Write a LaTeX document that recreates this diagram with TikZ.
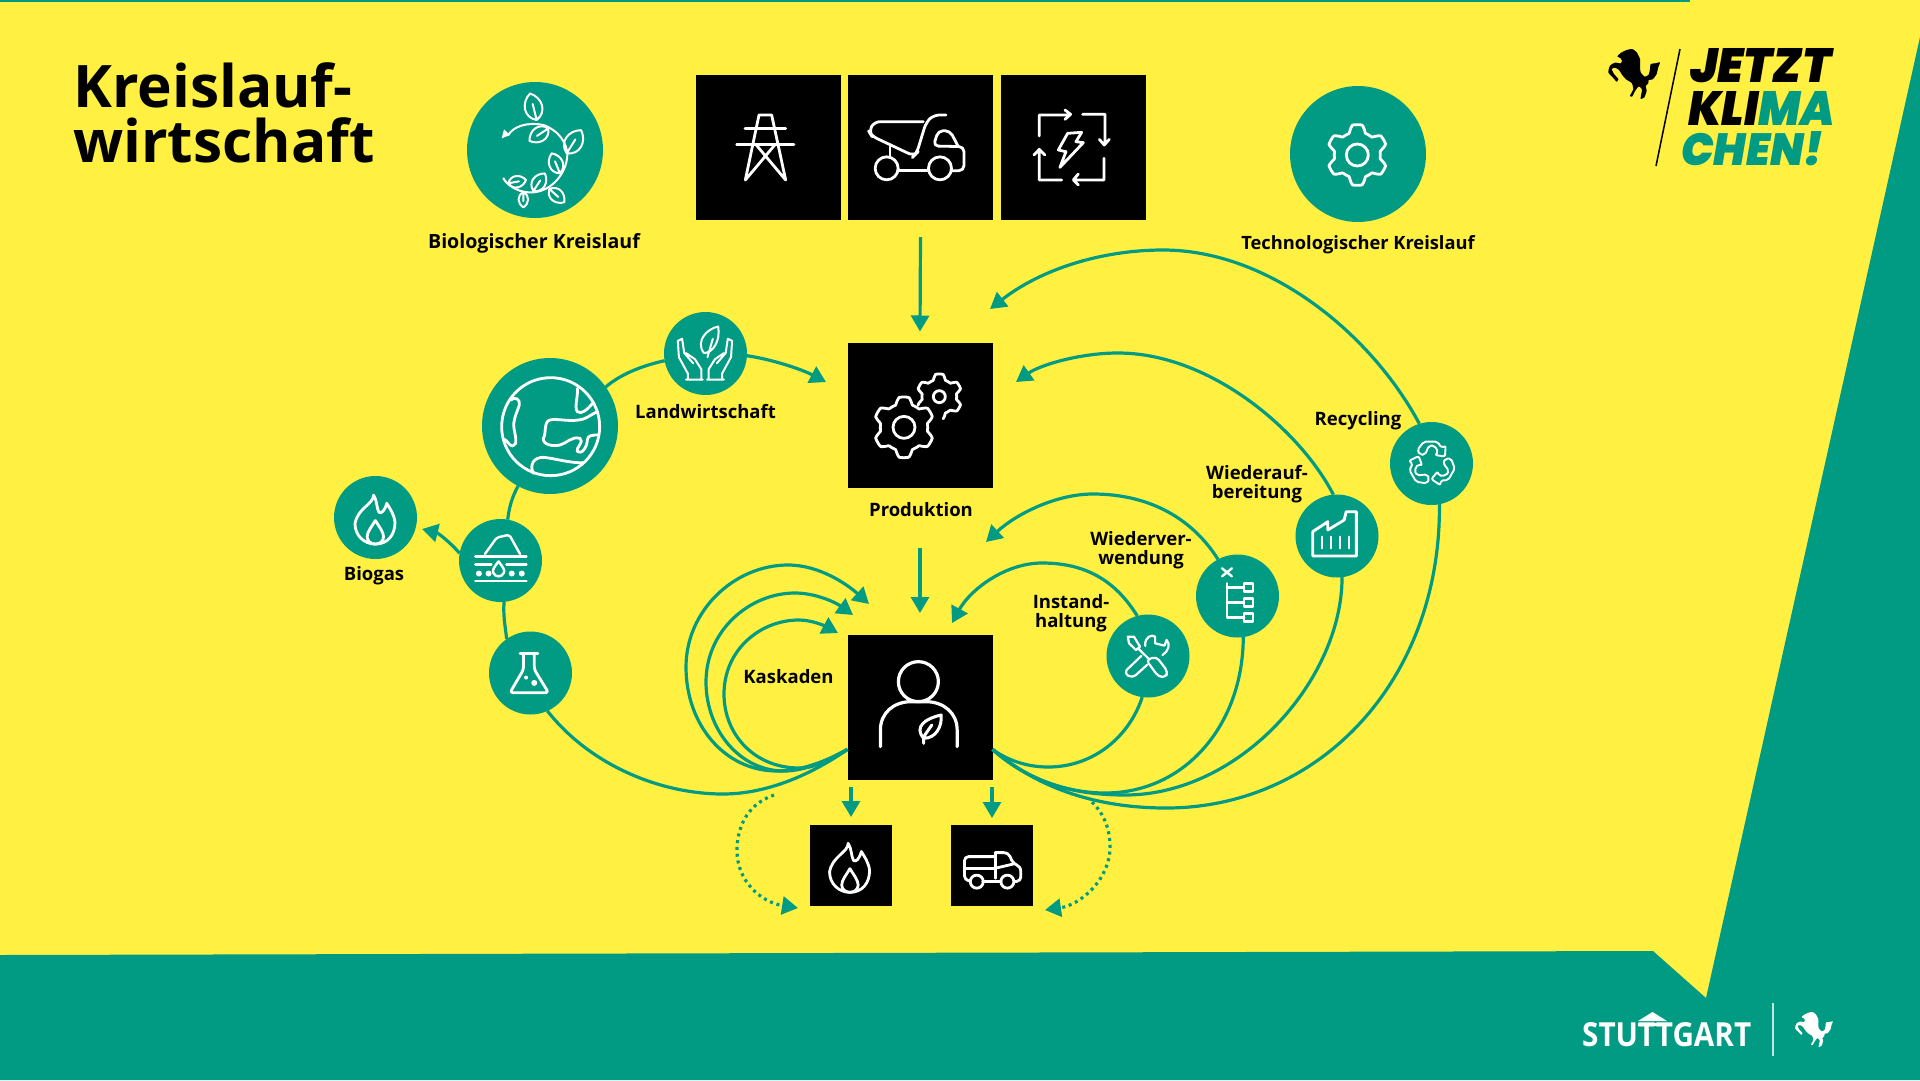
\documentclass[tikz,border=0pt]{standalone}
\usepackage{fontspec}
\usepackage{graphicx}
\usetikzlibrary{arrows.meta,calc}
\setmainfont{Open Sans}
\newfontfamily\logofont{Poppins Black}[ItalicFont={Poppins Black Italic}]
\definecolor{myteal}{HTML}{009B82}
\definecolor{myyellow}{HTML}{FFF042}
\tikzset{
  zT/.style={x=0.3333pt,y=-0.3333pt},
  zA/.style={x=0.4847pt,y=-0.3333pt},
  zB/.style={x=0.3571pt,y=-0.4082pt},
  zC/.style={x=0.4082pt,y=-0.3333pt},
  ico/.style={draw=white,line width=2.8pt,line cap=round,line join=round},
  bigc/.style={circle,fill=myteal,inner sep=0pt,outer sep=0pt,minimum size=136pt},
  midc/.style={circle,fill=myteal,inner sep=0pt,outer sep=0pt,minimum size=83pt},
  bsq/.style={rectangle,fill=black,inner sep=0pt,outer sep=0pt,minimum width=145pt,minimum height=145pt},
  ssq/.style={rectangle,fill=black,inner sep=0pt,outer sep=0pt,minimum width=82pt,minimum height=81pt},
  lab/.style={align=center,font=\bfseries\fontsize{18.5}{19}\selectfont,inner sep=0pt},
  link/.style={draw=myteal,line width=3.2pt},
  conn/.style={link,-{Triangle[width=18pt,length=16pt]}},
  dotconn/.style={conn,dash pattern=on 3pt off 3.8pt},
}
\newcommand{\vleaf}[4]{\begin{scope}[shift={(#1,#2)},rotate=#3,scale=#4]
  \draw[ico,line width=2pt] (0,0) .. controls (.2,.45) and (.75,.4) .. (1,0) .. controls (.75,-.4) and (.2,-.45) .. (0,0) (0,0) -- (.6,0);
\end{scope}}
\newcommand{\gearline}[7]{\draw[ico] plot[domain=#6:#7,samples=150,smooth] ({#1+(#3+#4*max(-1,min(1,1.8*cos(6*(\x-#5)))))*cos(\x)},{#2-(#3+#4*max(-1,min(1,1.8*cos(6*(\x-#5)))))*sin(\x)});}
\newcommand{\flamelines}{%
  \draw[ico] (150,478) .. controls (150,500) and (105,510) .. (98,548) .. controls (98,578) and (125,598) .. (155,598) .. controls (190,598) and (210,575) .. (210,545) .. controls (208,525) and (195,510) .. (187,498) .. controls (182,515) and (172,525) .. (165,520) .. controls (158,510) and (160,490) .. (150,478);
  \draw[ico] (155,540) .. controls (145,555) and (132,568) .. (132,580) .. controls (132,590) and (142,598) .. (155,598) .. controls (168,598) and (178,590) .. (178,580) .. controls (178,568) and (165,555) .. (155,540);}
\newcommand{\horseshape}{plot[smooth cycle,tension=.35] coordinates {(52,37) (62,27) (80,18) (97,15) (110,25) (120,45) (120,68) (122,85) (134,98) (146,92) (150,75) (152,60) (166,58) (180,55) (174,72) (170,90) (158,106) (146,108) (145,118) (137,126) (140,140) (133,160) (122,165) (123,155) (126,136) (116,127) (106,140) (96,158) (90,155) (100,135) (95,117) (78,106) (66,92) (57,78) (45,71) (35,75) (42,90) (55,105) (50,113) (38,100) (25,85) (30,65) (45,56) (62,58) (66,50) (62,43)}}
\begin{document}
\begin{tikzpicture}[x=1pt,y=-1pt]
\useasboundingbox (0,0) rectangle (1920,1080);
% background
\fill[myyellow] (0,0) rectangle (1920,1080);
\fill[myteal] (0,0) rectangle (1690,1.5);
\fill[myteal] (1920,37) -- (1706,998) -- (1653,951) -- (0,955) -- (0,1080) -- (1920,1080) -- cycle;
% title
\node[anchor=west,inner sep=0pt,align=left,font=\bfseries\fontsize{58.6}{55}\selectfont] (title) at (73,113) {Kreislauf-\\wirtschaft};
% nodes
\node[bsq] (tower) at (768,147.5) {};
\node[bsq] (dump) at (920.5,147.5) {};
\node[bsq] (power) at (1073.5,147.5) {};
\node[bsq] (prod) at (920,415) {};
\node[bsq] (person) at (920,707.5) {};
\node[ssq] (fuel) at (851,865.5) {};
\node[ssq] (van) at (992,865.5) {};
\node[bigc] (bio) at (535,150) {};
\node[bigc] (tech) at (1358,154) {};
\node[bigc] (earth) at (550,426) {};
\node[midc] (land) at (705.5,353.5) {};
\node[midc] (biogas) at (375.5,517.5) {};
\node[midc] (soil) at (500.5,560.5) {};
\node[midc] (flask) at (530.5,673) {};
\node[midc] (recy) at (1431.5,463.5) {};
\node[midc] (fact) at (1337,536) {};
\node[midc] (tree) at (1237.5,596) {};
\node[midc] (tools) at (1148,656) {};
% labels
\node[lab,font=\bfseries\fontsize{19.6}{19}\selectfont] (lbio) at (534,243.5) {Biologischer Kreislauf};
\node[lab,font=\bfseries\fontsize{18.3}{19}\selectfont] (ltech) at (1358,244.5) {Technologischer Kreislauf};
\node[lab] (lland) at (705.5,412) {Landwirtschaft};
\node[lab] (lprod) at (921,510) {Produktion};
\node[lab] (lbiog) at (374,576) {Biogas};
\node[lab] (lkas) at (788.5,677) {Kaskaden};
\node[lab] (lrec) at (1358,421) {Recycling};
\node[lab] (lwa) at (1257,484.5) {Wiederauf-\\bereitung};
\node[lab] (lwv) at (1141,550) {Wiederver-\\wendung};
\node[lab] (lin) at (1071,613.5) {Instand-\\haltung};
% free ends
\coordinate (t1) at (990,309);
\coordinate (t2) at (1016,382);
\coordinate (t3) at (986,542);
\coordinate (t4) at (952,623);
\coordinate (t5) at (869,604);
\coordinate (t6) at (853,615);
\coordinate (t7) at (838,633);
\coordinate (t8) at (826,382);
\coordinate (t9) at (422,529);
\coordinate (d1) at (774,795);
\coordinate (d2) at (798,908);
\coordinate (d3) at (1092,802);
\coordinate (d4) at (1045,910);
% connectors
\draw[conn] ([yshift=-17pt]dump.south) -- ([yshift=11pt]prod.north);
\draw[conn] ([yshift=-60pt]prod.south) -- ([yshift=22pt]person.north);
\draw[conn] ([yshift=8pt]fuel.north) ++(0,-30) -- ([yshift=8pt]fuel.north);
\draw[conn] ([yshift=7pt]van.north) ++(0,-31) -- ([yshift=7pt]van.north);
\draw[conn] (recy.107) .. controls (1372,335) and (1270,250) .. (1163,250) .. controls (1100,250) and (1040,270) .. (t1);
\draw[conn] (fact.95) .. controls (1300,430) and (1210,353) .. (1118,353) .. controls (1080,353) and (1040,365) .. (t2);
\draw[conn] (tree.118) .. controls (1190,515) and (1145,494) .. (1093,494) .. controls (1055,494) and (1015,515) .. (t3);
\draw[conn] (tools.105) .. controls (1115,580) and (1085,563) .. (1042,563) .. controls (1005,563) and (970,590) .. (t4);
\draw[link] (person.-30.4) .. controls (1010,762) and (1030,767) .. (1048,767) .. controls (1095,767) and (1130,735) .. (tools.-98);
\draw[link] (person.-30.4) .. controls (1025,778) and (1065,793) .. (1105,793) .. controls (1185,793) and (1243,725) .. (tree.-82);
\draw[link] (person.-30.4) .. controls (1025,778) and (1065,795) .. (1125,795) .. controls (1240,795) and (1342,680) .. (fact.-83);
\draw[link] (person.-30.4) .. controls (1040,790) and (1100,808) .. (1166,808) .. controls (1320,808) and (1441,680) .. (recy.-79);
\draw[link] (flask.-66) .. controls (590,765) and (660,794) .. (723,794) .. controls (770,794) and (815,772) .. (person.210.4);
\draw[conn] (person.210.4) .. controls (825,762) and (800,771) .. (777,771) .. controls (725,771) and (686,725) .. (686,667) .. controls (686,610) and (735,565) .. (788,565) .. controls (820,565) and (848,585) .. (t5);
\draw[conn] (person.210.4) .. controls (828,760) and (806,771) .. (784,771) .. controls (740,771) and (706,730) .. (706,682) .. controls (706,630) and (750,593) .. (795,593) .. controls (815,593) and (835,602) .. (t6);
\draw[conn] (person.210.4) .. controls (830,760) and (815,768) .. (799,768) .. controls (755,768) and (724,735) .. (724,694) .. controls (724,650) and (760,620) .. (799,620) .. controls (812,620) and (825,626) .. (t7);
\draw[link] (earth.35) .. controls (622,373) and (645,365) .. (land.190);
\draw[conn] (land.-3) .. controls (775,360) and (803,370) .. (t8);
\draw[link] (earth.-118) .. controls (512,497) and (509,508) .. (soil.80);
\draw[link] (soil.-85) .. controls (503,615) and (505,625) .. (flask.125);
\draw[conn] (soil.170) .. controls (450,542) and (438,533) .. (t9);
\draw[dotconn] (d1) .. controls (745,805) and (737,830) .. (737,851) .. controls (737,880) and (760,902) .. (d2);
\draw[dotconn] (d3) .. controls (1105,815) and (1110,830) .. (1110,847) .. controls (1110,880) and (1080,905) .. (d4);
% tower, dump truck, power cycle
\begin{scope}[shift={(720,100)},zT]
\draw[ico] (76,240) -- (117,45) -- (155,45) -- (197,240) -- (108,134) (165,134) -- (76,240);
\draw[ico] (75,85) -- (197,85) (50,134) -- (222,134);
\draw[ico,rounded corners=6pt] (610,65) -- (462,65) -- (447,95) -- (455,108) -- (582,168) -- (590,160) -- (618,68) -- (640,45) -- (678,45);
\draw[ico] (500,205) circle[radius=11.5pt] (660,205) circle[radius=11.5pt];
\draw[ico] (510,140) -- (510,170) (535,212) -- (625,212);
\draw[ico,rounded corners=5pt] (695,212) -- (732,212) -- (732,140) -- (640,138) -- (655,92) -- (690,92) -- (715,140);
\draw[ico] (958,108) -- (958,45) -- (1050,45) (1035,30) -- (1052,43) -- (1035,58);
\draw[ico] (1088,43) -- (1155,43) -- (1155,130) (1138,118) -- (1153,135) -- (1168,118);
\draw[ico] (1152,175) -- (1152,240) -- (1062,240) (1075,222) -- (1060,240) -- (1075,255);
\draw[ico] (1025,240) -- (958,240) -- (958,152) (942,165) -- (958,148) -- (975,165);
\draw[ico] (1043,100) -- (1085,97) -- (1068,125) -- (1090,128) -- (1020,202) -- (1038,155) -- (1015,150) -- cycle;
\end{scope}
% bio icon
\begin{scope}[shift={(480,85)},zT]
\draw[ico,line width=2pt] (85,150) .. controls (100,125) and (140,110) .. (190,120) .. controls (235,135) and (262,175) .. (262,210) .. controls (260,265) and (215,318) .. (160,322) .. controls (120,325) and (85,305) .. (70,280);
\fill[white] (65,160) -- (72,133) -- (90,150) -- cycle;
\vleaf{170}{105}{104}{82}
\vleaf{205}{130}{213.7}{68}
\vleaf{260}{205}{58}{82}
\vleaf{240}{265}{112.6}{65}
\vleaf{160}{318}{56.6}{63}
\vleaf{85}{295}{10.7}{54}
\vleaf{130}{322}{-90}{45}
\vleaf{208}{312}{-41.6}{60}
\end{scope}
% tech gear (zoom 5 frame) + recycling
\begin{scope}[shift={(1200,60)},zT]
\gearline{472}{285}{80}{11}{30}{0}{360}
\draw[ico] (472,285) circle[radius=11pt];
\foreach \a in {0,120,240}{
\begin{scope}[shift={(695,1212)},rotate=\a]
\draw[ico,line width=1.9pt,rounded corners=2pt] (-35,-28) -- (-43,-42) -- (-23,-67) -- (17,-67) -- (30,-48) -- (42,-55) -- (40,-22) -- (10,-27) -- (20,-36) -- (8,-55) -- (-8,-55) -- (-20,-28) -- cycle;
\end{scope}}
\end{scope}
% earth
\begin{scope}[shift={(500,370)},zT]
\draw[ico] (152,170) circle[radius=49pt];
\draw[ico] (32,90) .. controls (45,80) and (60,85) .. (58,105) .. controls (50,130) and (38,150) .. (42,175) .. controls (45,195) and (55,225) .. (38,228) .. controls (28,228) and (22,212) .. (14,208);
\draw[ico] (232,55) .. controls (235,80) and (222,110) .. (232,125) .. controls (245,135) and (262,118) .. (278,100);
\draw[ico] (292,125) .. controls (270,135) and (255,150) .. (235,150) .. controls (205,155) and (170,145) .. (150,150) .. controls (130,155) and (140,190) .. (130,205) .. controls (128,225) and (160,230) .. (180,225) .. controls (200,220) and (215,198) .. (240,205) .. controls (255,215) and (225,235) .. (232,245) .. controls (245,255) and (262,230) .. (262,210) .. controls (262,195) and (280,195) .. (295,195);
\draw[ico] (100,310) .. controls (88,285) and (100,262) .. (130,262) .. controls (165,265) and (210,280) .. (250,278);
\end{scope}
% gears in production
\begin{scope}[shift={(860,360)},zT]
\gearline{132}{202}{81}{10}{30}{0}{360}
\draw[ico] (132,202) circle[radius=11pt];
\gearline{238}{110}{60}{8}{30}{-80}{202}
\draw[ico] (238,110) circle[radius=6pt];
\end{scope}
% zoom 2 frame icons
\begin{scope}[shift={(320,300)},zB]
\flamelines
\begin{scope}[shift={(1329,853)}]\flamelines\end{scope}
% hands
\draw[ico,line width=2pt] (1075,130) .. controls (1050,100) and (1085,70) .. (1115,65) .. controls (1122,100) and (1100,130) .. (1075,130) (1085,140) -- (1100,95);
\foreach \s/\o in {1/0,-1/2156}{
\begin{scope}[shift={(\o,0)},xscale=\s]
\draw[ico,line width=2pt] (1072,195) -- (1025,195) (1030,195) -- (1030,180) -- (1005,140) -- (1002,100) -- (1014,95) -- (1020,130) -- (1045,155) (1068,195) -- (1068,170) -- (1050,145) -- (1025,130);
\end{scope}}
% soil
\draw[ico,line width=2.4pt,rounded corners=2pt] (462,622) -- (495,582) -- (530,575) -- (560,622);
\draw[ico,line width=2.4pt] (435,628) -- (578,628) (435,648) -- (480,648) (522,648) -- (578,648) (435,688) -- (578,688);
\draw[ico,line width=2.4pt] (500,640) .. controls (512,655) and (518,660) .. (515,668) .. controls (510,680) and (490,680) .. (485,668) .. controls (482,660) and (488,655) .. (500,640);
\fill[white] (445,670) circle[radius=3pt] (472,670) circle[radius=3pt] (537,670) circle[radius=3pt] (565,670) circle[radius=3pt];
% flask
\draw[ico,rounded corners=3pt] (570,865) -- (570,905) -- (532,962) -- (640,962) -- (600,905) -- (600,865);
\draw[ico] (560,865) -- (610,865);
\fill[white] (577,925) circle[radius=2pt] (600,938) circle[radius=3pt];
\end{scope}
% zoom 3 frame icons
\begin{scope}[shift={(840,480)},zC]
% person
\draw[ico,line width=3.2pt] (192,605) circle[radius=20pt];
\draw[ico,line width=3.2pt] (99,800) -- (99,750) .. controls (99,700) and (130,665) .. (175,665) -- (210,665) .. controls (255,665) and (287,700) .. (287,750) -- (287,800);
\draw[ico,line width=3pt] (205,775) .. controls (180,740) and (210,715) .. (248,705) .. controls (250,740) and (235,775) .. (205,775) (205,790) -- (205,770) -- (225,735);
% van
\draw[ico,rounded corners=4pt] (318,1203) -- (305,1200) -- (305,1130) -- (380,1130);
\draw[ico] (305,1165) -- (380,1165) (380,1195) -- (380,1118) (350,1205) -- (395,1205);
\draw[ico,rounded corners=4pt] (380,1118) -- (412,1118) -- (425,1152) -- (443,1160) -- (443,1203) -- (428,1205);
\draw[ico] (380,1165) -- (425,1152);
\draw[ico] (335,1205) circle[radius=6.5pt] (410,1205) circle[radius=6.5pt];
% factory
\draw[ico] (1158,228) -- (1158,155) -- (1195,125) -- (1195,150) -- (1235,120) -- (1240,95) -- (1265,95) -- (1265,228) -- cycle;
\draw[ico,line width=2pt] (1180,170) -- (1180,205) (1203,170) -- (1203,205) (1225,170) -- (1225,205) (1247,170) -- (1247,205);
% tree
\draw[ico,line width=2.4pt] (936,265) -- (960,289) (960,265) -- (936,289);
\draw[ico,line width=2.4pt] (948,310) -- (948,412) -- (990,412) (948,322) -- (990,322) (948,367) -- (990,367);
\draw[ico,line width=2.4pt] (990,310) rectangle (1012,335) (990,355) rectangle (1012,380) (990,400) rectangle (1012,425);
% tools
\draw[ico,line width=2.2pt] (705,470) -- (720,470) -- (735,500) -- (725,510) -- (708,490) -- cycle (730,505) -- (755,535);
\draw[ico,line width=2.2pt,rounded corners=4pt] (750,540) -- (775,530) -- (803,575) -- (798,592) -- (780,590) -- cycle;
\draw[ico,line width=2.2pt] (738,528) -- (702,570) .. controls (695,582) and (710,598) .. (725,585) -- (752,555);
\draw[ico,line width=2.2pt] (748,498) .. controls (745,470) and (765,462) .. (772,470) -- (772,490) -- (795,497) -- (800,480) .. controls (810,490) and (805,515) .. (790,525);
\end{scope}
% horse black + logo
\begin{scope}[shift={(1600,44)},zT]
\fill[black] \horseshape;
\end{scope}
\coordinate (ll1) at (1680,49);
\coordinate (ll2) at (1656,166);
\draw[black,line width=1.5pt] (ll1) -- (ll2);
\node[inner sep=0pt,anchor=west] (jetzt) at (1690,66) {\resizebox{141pt}{34pt}{\logofont\itshape JETZT}};
\node[inner sep=0pt,anchor=west] (klima) at (1688,108) {\resizebox{147pt}{34pt}{\logofont\itshape KLI\textcolor{myteal}{MA}}};
\node[inner sep=0pt,anchor=west] (chen) at (1681,149) {\resizebox{142pt}{34pt}{\logofont\itshape\textcolor{myteal}{CHEN!}}};
% footer logo
\node[inner sep=0pt,anchor=west,text=white] (stgt) at (1582,1035) {\resizebox{169pt}{24pt}{\bfseries STUTTGART}};
\fill[white] (1638,1021) -- (1652.5,1012) -- (1667,1021) -- cycle;
\fill[white] (1638,1022.5) rectangle (1667,1025.5);
\coordinate (fl1) at (1773,1003);
\coordinate (fl2) at (1773,1056);
\draw[white!75!myteal,line width=1.5pt] (fl1) -- (fl2);
\begin{scope}[shift={(1789,1008.5)},x=0.2436pt,y=-0.2333pt]
\fill[white] \horseshape;
\end{scope}
\end{tikzpicture}
\end{document}
